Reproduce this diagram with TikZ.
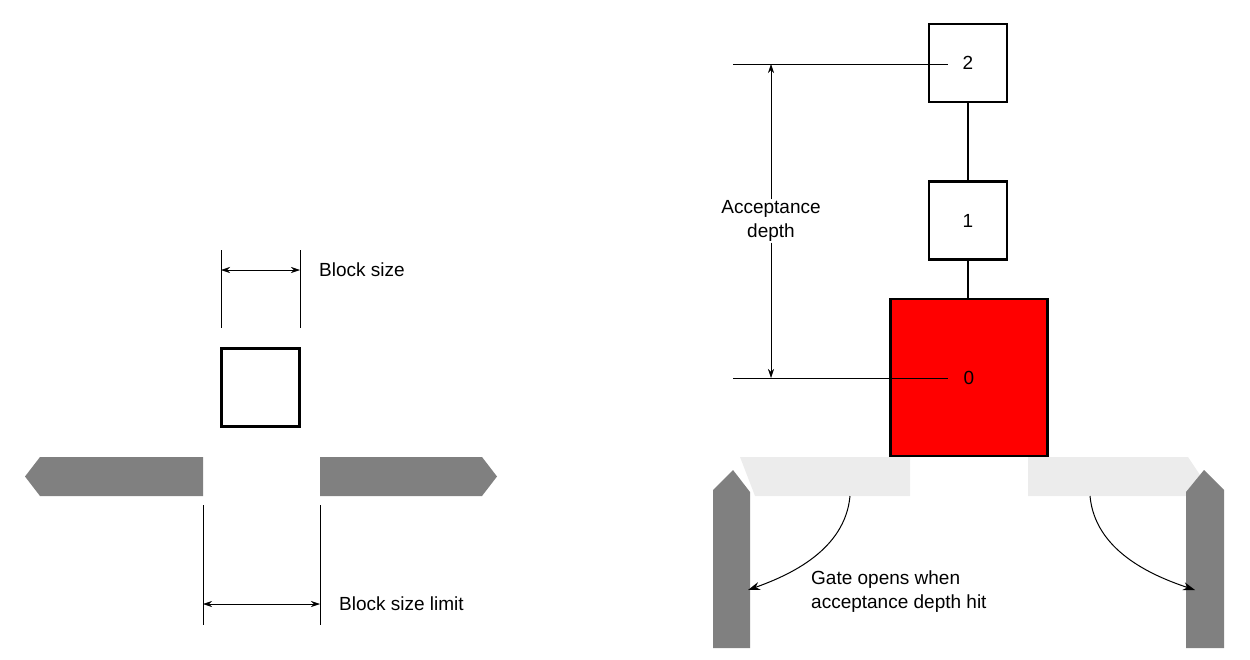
\documentclass[tikz,border=0pt]{standalone}
\usepackage{fontspec}
\setmainfont{Liberation Sans}
\usetikzlibrary{positioning,arrows.meta}
\definecolor{gtDark}{RGB}{128,128,128}
\definecolor{gtLight}{RGB}{236,236,236}
\definecolor{gtRed}{RGB}{255,0,0}
\tikzset{
    base/.style={font=\fontsize{19}{24}\selectfont, align=left},
    block/.style={base, draw, line width=2.2pt, minimum size=78pt, inner sep=0pt},
    dimline/.style={line width=0.6pt},
    dimarrow/.style={line width=0.6pt, {Stealth[length=9pt,width=6pt]}-{Stealth[length=9pt,width=6pt]}},
    gatearrow/.style={line width=1pt, -{Stealth[length=12pt,width=8pt]}},
    label/.style={base, inner sep=1pt}
}
\begin{document}
\begin{tikzpicture}[x=1pt,y=-1pt]
  \useasboundingbox (0,0) rectangle (1250,659);
  % left: block and opening
  \node[block] (blk) at (260.5,387.5) {};
  \fill[gtDark] (203,457) -- (40,457) -- (25,476.5) -- (40,496) -- (203,496) -- cycle;
  \fill[gtDark] (320,457) -- (482,457) -- (497,476.5) -- (482,496) -- (320,496) -- cycle;
  \coordinate (bsa) at (221,250); \coordinate (bsb) at (300,250);
  \draw[dimline] (bsa) -- (221,328);
  \draw[dimline] (bsb) -- (300,328);
  \draw[dimarrow] (221,270) -- (300,270);
  \node[label, anchor=west] (bsize) at (318,270) {Block size};
  \draw[dimline] (203,505) -- (203,625);
  \draw[dimline] (320,505) -- (320,625);
  \draw[dimarrow] (203,604) -- (320,604);
  \node[label, anchor=west] (bslimit) at (338,604) {Block size limit};
  % right: stacked blocks
  \node[block] (b2) at (968,63) {2};
  \node[block] (b1) at (968,220.5) {1};
  \node[block, fill=gtRed, minimum size=157pt] (b0) at (969,377.5) {0};
  \draw[line width=2.2pt] (b2) -- (b1);
  \draw[line width=2.2pt] (b1) -- (b0.north -| b1.south);
  % gate
  \fill[gtLight] (910,457) -- (740,457) -- (755,496) -- (910,496) -- cycle;
  \fill[gtLight] (1028,457) -- (1188,457) -- (1202,478) -- (1190,496) -- (1028,496) -- cycle;
  \fill[gtDark] (713,490) -- (733,470) -- (750,492) -- (750,648) -- (713,648) -- cycle;
  \fill[gtDark] (1186,492) -- (1204,470) -- (1224,490) -- (1224,648) -- (1186,648) -- cycle;
  % acceptance depth
  \draw[dimline] (733,64) -- (948,64);
  \draw[dimline] (733,378) -- (948,378);
  \node[label, align=center] (depth) at (771,221) {Acceptance\\depth};
  \draw[line width=0.6pt, -{Stealth[length=9pt,width=6pt]}] (depth.north) -- (771,64);
  \draw[line width=0.6pt, -{Stealth[length=9pt,width=6pt]}] (depth.south) -- (771,378);
  % gate opening
  \draw[gatearrow] (850,496) .. controls (845,550) and (790,575) .. (748,590);
  \draw[gatearrow] (1090,496) .. controls (1095,550) and (1150,575) .. (1195,590);
  \node[label, anchor=north west] (gate) at (810,570) {Gate opens when\\acceptance depth hit};
\end{tikzpicture}
\end{document}
